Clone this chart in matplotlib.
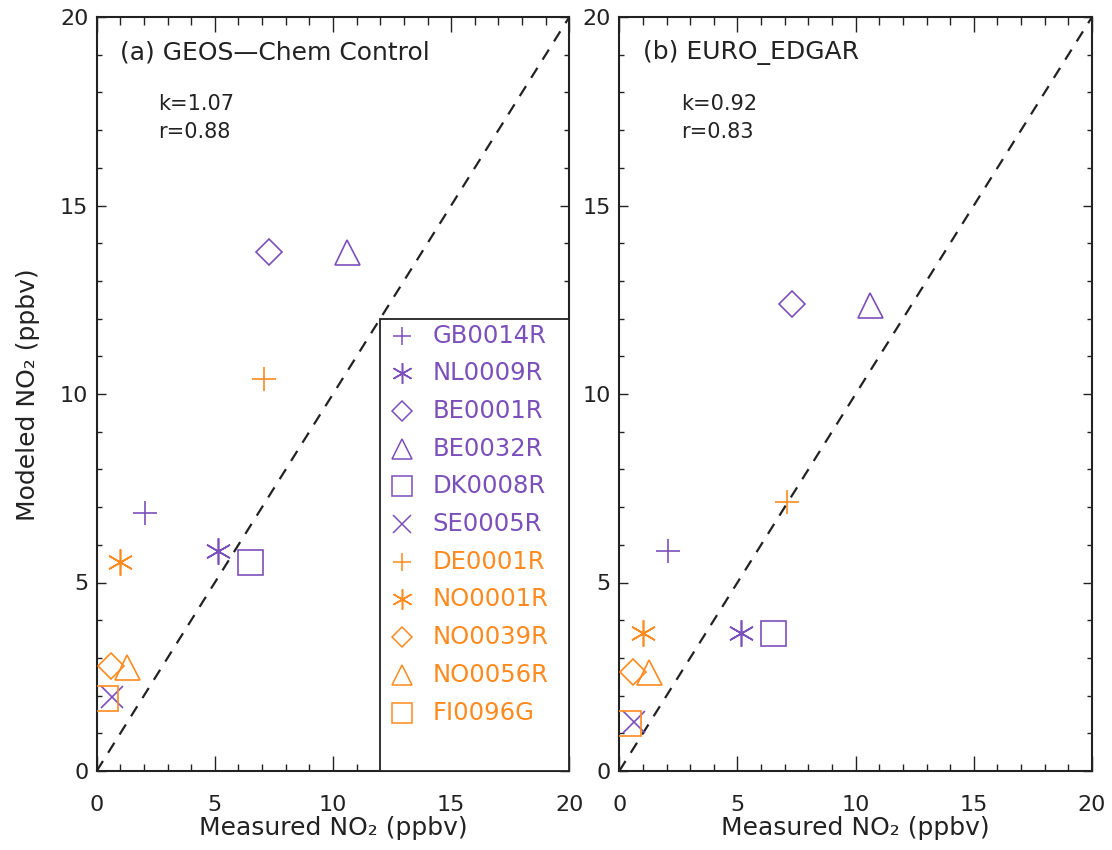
import matplotlib
matplotlib.use("Agg")
import matplotlib.pyplot as plt
from matplotlib.ticker import MultipleLocator
from matplotlib.patches import Rectangle

# ---------------- data ----------------
sites = ['GB0014R', 'NL0009R', 'BE0001R', 'BE0032R', 'DK0008R', 'SE0005R',
         'DE0001R', 'NO0001R', 'NO0039R', 'NO0056R', 'FI0096G']
groups = ['purple'] * 6 + ['orange'] * 5
measured = [2.05, 5.15, 7.3, 10.6, 6.5, 0.63, 7.1, 1.0, 0.6, 1.27, 0.37]
modeled_control = [6.85, 5.84, 13.77, 13.77, 5.54, 1.95, 10.39, 5.54, 2.79, 2.77, 1.93]
modeled_edgar = [5.84, 3.65, 12.38, 12.36, 3.65, 1.31, 7.14, 3.65, 2.62, 2.62, 1.28]
panel_titles = ['(a) GEOS\u2014Chem Control', '(b) EURO_EDGAR']
panel_k = ['1.07', '0.92']
panel_r = ['0.88', '0.83']
xticks = [0, 5, 10, 15, 20]
yticks = [0, 5, 10, 15, 20]

# ---------------- style ----------------
COL = {'purple': '#7b50ba', 'orange': '#ff8a1f'}
TXT = '#222222'
ASTER = (6, 2, 0)
marker_cycle = ['+', ASTER, 'D', '^', 's', 'x']
msize = {'+': 17, ASTER: 19, 'D': 12.8, '^': 18, 's': 18, 'x': 16.5}
markers = [marker_cycle[i % 6] for i in range(len(sites))]

plt.rcParams['font.family'] = ['DejaVu Sans']
plt.rcParams['lines.scale_dashes'] = False

W, H = 1112, 850
fig = plt.figure(figsize=(W / 100, H / 100), dpi=100)


def px_axes(l, r, t, b):
    return fig.add_axes([l / W, 1 - b / H, (r - l) / W, (b - t) / H])


ax1 = px_axes(96.7, 569.3, 17, 771)
ax2 = px_axes(619.3, 1092, 17, 771)
FS_TICK = 16
FS_KR = 15
FS_TITLE = 18
FS_LEG = 17.5
FS_LAB = 18

for ax, modeled, title, k, r in [(ax1, modeled_control, panel_titles[0], panel_k[0], panel_r[0]),
                                 (ax2, modeled_edgar, panel_titles[1], panel_k[1], panel_r[1])]:
    ax.set_xlim(0, 20)
    ax.set_ylim(0, 20)
    ax.set_xticks(xticks)
    ax.set_yticks(yticks)
    ax.xaxis.set_minor_locator(MultipleLocator(1))
    ax.yaxis.set_minor_locator(MultipleLocator(1))
    ax.tick_params(axis='both', which='both', direction='in', top=True, right=True,
                   labelsize=FS_TICK, width=1.0, color=TXT, labelcolor=TXT)
    ax.tick_params(axis='x', which='major', length=10.8, pad=17)
    ax.tick_params(axis='x', which='minor', length=5.4)
    ax.tick_params(axis='y', which='major', length=6.8, pad=6)
    ax.tick_params(axis='y', which='minor', length=3.4)
    for s in ax.spines.values():
        s.set_linewidth(1.5)
        s.set_color(TXT)
    ax.plot([0, 20], [0, 20], color=TXT, lw=1.6, ls=(0, (8.5, 7)), zorder=1)
    for xi, yi, m, g in zip(measured, modeled, markers, groups):
        ax.plot(xi, yi, marker=m, ms=msize[m], mfc='none', mec=COL[g], mew=1.2,
                ls='none', zorder=3)
    ax.text(1.0, 19.05, title, fontsize=FS_TITLE, va='center', ha='left', color=TXT)
    ax.text(2.6, 17.7, 'k=' + k, fontsize=FS_KR, va='center', ha='left', color=TXT)
    ax.text(2.6, 16.95, 'r=' + r, fontsize=FS_KR, va='center', ha='left', color=TXT)
    ax.set_xlabel('Measured NO\u2082 (ppbv)', fontsize=FS_LAB, labelpad=1, color=TXT)

# legend box in panel (a)
ax1.add_patch(Rectangle((12, 0), 8, 12, facecolor='white', edgecolor=TXT,
                        lw=1.3, zorder=4, clip_on=False))
for i, (name, m, g) in enumerate(zip(sites, markers, groups)):
    yy = 11.55 - i * 1.0
    ax1.plot(12.92, yy, marker=m, ms=msize[m] * 0.78, mfc='none', mec=COL[g], mew=1.1,
             ls='none', zorder=5)
    ax1.text(14.2, yy, name, color=COL[g], fontsize=FS_LEG, va='center', ha='left', zorder=5)

fig.text(28 / W, 1 - 395 / H, 'Modeled NO\u2082 (ppbv)', rotation=90, fontsize=FS_LAB,
         ha='center', va='center', color=TXT)

fig.savefig('out.png', dpi=100)
